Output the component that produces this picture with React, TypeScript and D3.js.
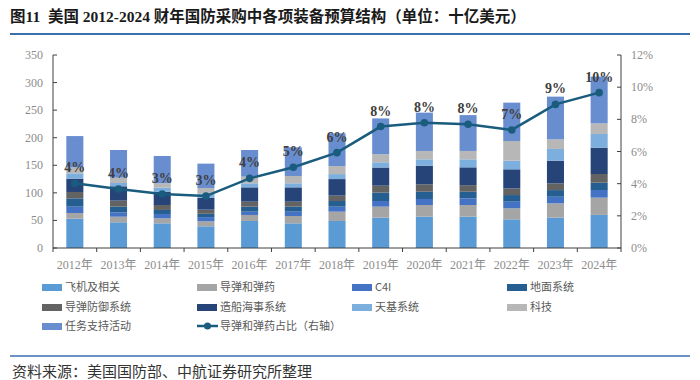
import React from "react";
import * as d3 from "d3";

const years = ["2012年","2013年","2014年","2015年","2016年","2017年","2018年","2019年","2020年","2021年","2022年","2023年","2024年"];
const seriesNames = ["飞机及相关","导弹和弹药","C4I","地面系统","导弹防御系统","造船海事系统","天基系统","科技","任务支持活动"];
const seriesColors = ["#5b9bd5","#a5a5a5","#4472c4","#255e91","#636363","#264478","#7cafdd","#b7b7b7","#698ed0"];

const aircraft = [53.2,46.6,44.7,39.3,49.0,44.7,49.0,55.0,56.8,56.8,52.0,55.0,60.0];
const missiles = [10.3,10.2,9.1,9.1,10.9,13.3,16.9,20.0,21.2,21.2,20.0,26.0,31.3];
const c4i = [11.5,7.9,7.9,7.6,6.0,7.9,9.1,10.2,10.9,12.0,12.0,12.0,13.9];
const ground = [15.0,10.3,7.3,6.0,9.1,9.1,10.2,15.2,13.1,12.0,12.0,12.0,13.3];
const missileDefense = [11.6,10.9,9.0,7.5,9.0,9.0,9.8,12.6,13.5,12.0,12.0,12.3,15.7];
const shipbuilding = [24.2,26.0,24.0,21.8,26.0,26.0,30.0,33.0,33.8,32.3,34.7,41.1,47.8];
const space = [9.6,6.0,7.4,7.2,7.3,7.3,9.0,9.4,11.5,14.5,15.7,21.2,24.8];
const sciTech = [10.6,9.6,7.9,10.3,12.1,13.3,14.7,14.6,15.2,15.2,35.6,17.4,19.2];
const missionSupport = [57.0,50.2,49.6,44.2,48.3,52.0,59.3,65.0,69.5,65.0,69.6,77.5,84.8];
const missileShare = [4.02,3.67,3.36,3.23,4.33,5.02,5.93,7.55,7.79,7.69,7.34,8.93,9.66];

const leftTicks = [0,50,100,150,200,250,300,350];
const rightTicks = [0,2,4,6,8,10,12];

const seriesValues = [aircraft,missiles,c4i,ground,missileDefense,shipbuilding,space,sciTech,missionSupport];

const serif = "'Liberation Serif','Noto Sans CJK SC',serif";
const cjk = "'Noto Sans CJK SC','Liberation Serif',sans-serif";

export default function App() {
  const W = 700, H = 380;
  const left = 53, right = 621, top = 55, bottom = 248;

  const x = d3.scaleBand<string>().domain(years).range([left, right]).paddingInner(0.61).paddingOuter(0.305);
  const y = d3.scaleLinear().domain([0, 350]).range([bottom, top]);
  const y2 = d3.scaleLinear().domain([0, 12]).range([bottom, top]);

  const table = years.map((yr, i) => {
    const row: any = { year: yr };
    seriesNames.forEach((n, k) => { row[n] = seriesValues[k][i]; });
    return row;
  });
  const stacked = d3.stack<any>().keys(seriesNames)(table);

  const lineGen = d3.line<number>()
    .x((_, i) => (x(years[i]) as number) + x.bandwidth() / 2)
    .y((d) => y2(d));

  const step = x.step();
  const boundaries = years.map((_, i) => left + step * i).concat([right]);

  const legendItems = seriesNames.map((n, k) => ({ name: n, color: seriesColors[k], type: "rect" }));
  legendItems.push({ name: "导弹和弹药占比（右轴）", color: "#1a5c7e", type: "line" });
  const colX = [42, 197, 352, 507];
  const rowY = [287, 307, 326];

  return (
    <svg width={W} height={H} style={{ display: "block", position: "absolute", left: 0, top: 0 }}>
      <rect width={W} height={H} fill="#fff" />
      <text x={10} y={22} fontFamily={serif} fontWeight="bold" fontSize={15.5} fill="#1a1a1a" style={{ whiteSpace: "pre" }}>
        {"图11  美国 2012-2024 财年国防采购中各项装备预算结构（单位：十亿美元）"}
      </text>
      <line x1={10} x2={690} y1={34} y2={34} stroke="#3c6fb0" strokeWidth={2} />

      {stacked.map((layer, k) => (
        <g key={k} fill={seriesColors[k]}>
          {layer.map((d, i) => (
            <rect key={i} x={x(years[i])} width={x.bandwidth()} y={y(d[1])} height={y(d[0]) - y(d[1])} />
          ))}
        </g>
      ))}

      <line x1={left} x2={left} y1={top} y2={bottom} stroke="#404040" strokeWidth={1} />
      <line x1={right} x2={right} y1={top} y2={bottom} stroke="#404040" strokeWidth={1} />
      <line x1={left} x2={right} y1={bottom} y2={bottom} stroke="#404040" strokeWidth={1} />
      {leftTicks.map((t) => (
        <g key={"l" + t}>
          <line x1={left} x2={left + 4} y1={y(t)} y2={y(t)} stroke="#404040" />
          <text x={left - 10} y={y(t) + 4} textAnchor="end" fontFamily={serif} fontSize={12} fill="#8c8c8c">{t}</text>
        </g>
      ))}
      {rightTicks.map((t) => (
        <g key={"r" + t}>
          <line x1={right - 4} x2={right} y1={y2(t)} y2={y2(t)} stroke="#404040" />
          <text x={right + 10} y={y2(t) + 4} textAnchor="start" fontFamily={serif} fontSize={12} fill="#8c8c8c">{t}%</text>
        </g>
      ))}
      {boundaries.map((b, i) => (
        <line key={"xb" + i} x1={b} x2={b} y1={bottom} y2={bottom + 4} stroke="#404040" />
      ))}
      {years.map((yr) => (
        <text key={yr} x={(x(yr) as number) + x.bandwidth() / 2} y={269} textAnchor="middle" fontFamily={serif} fontSize={12} fill="#8c8c8c">{yr}</text>
      ))}

      <path d={lineGen(missileShare) || ""} fill="none" stroke="#1a5c7e" strokeWidth={2.5} />
      {missileShare.map((v, i) => (
        <g key={"p" + i}>
          <circle cx={(x(years[i]) as number) + x.bandwidth() / 2} cy={y2(v)} r={3.8} fill="#1a5c7e" />
          <text x={(x(years[i]) as number) + x.bandwidth() / 2} y={y2(v) - 11} textAnchor="middle" fontFamily={serif} fontWeight="bold" fontSize={14} fill="#404040">{Math.round(v)}%</text>
        </g>
      ))}

      {legendItems.map((it, i) => {
        const cx = colX[i % 4];
        const cy = rowY[Math.floor(i / 4)];
        return (
          <g key={"lg" + i}>
            {it.type === "rect" ? (
              <rect x={cx} y={cy - 3} width={20} height={7} fill={it.color} />
            ) : (
              <g>
                <line x1={cx} x2={cx + 21} y1={cy} y2={cy} stroke={it.color} strokeWidth={2.5} />
                <circle cx={cx + 10.5} cy={cy} r={3.5} fill={it.color} />
              </g>
            )}
            <text x={cx + 23} y={cy + 4} fontFamily={cjk} fontSize={11} fill="#595959">{it.name}</text>
          </g>
        );
      })}

      <line x1={10} x2={690} y1={356} y2={356} stroke="#3c6fb0" strokeWidth={1.5} />
      <text x={12} y={377} fontFamily={cjk} fontSize={15} fill="#333">资料来源：美国国防部、中航证券研究所整理</text>
    </svg>
  );
}
